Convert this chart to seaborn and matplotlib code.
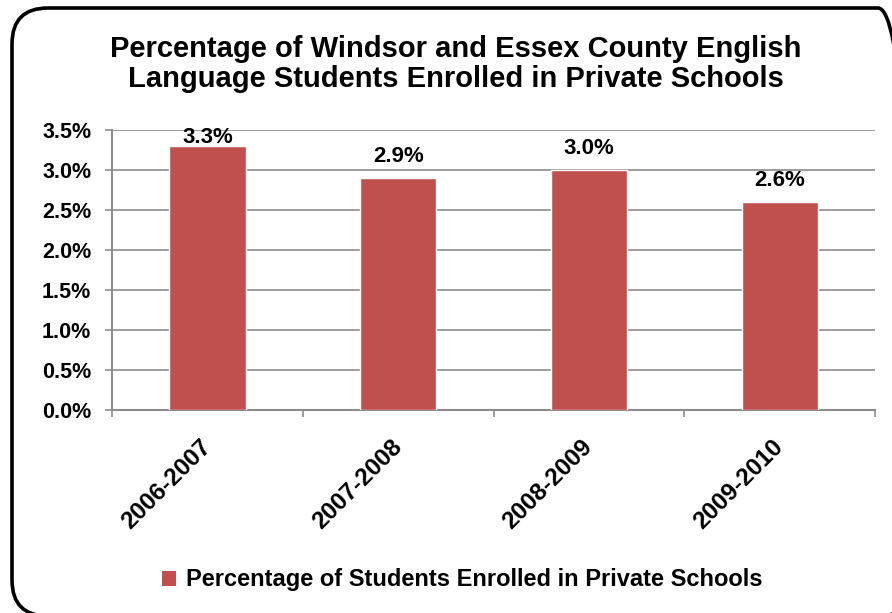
import matplotlib
matplotlib.use("Agg")
import matplotlib.pyplot as plt
import matplotlib.transforms as mtransforms
from matplotlib.patches import FancyBboxPatch, Patch
import seaborn as sns
import pandas as pd

years = ["2006-2007", "2007-2008", "2008-2009", "2009-2010"]
pct_private = [3.3, 2.9, 3.0, 2.6]
y_ticks = [0.0, 0.5, 1.0, 1.5, 2.0, 2.5, 3.0, 3.5]
series_name = "Percentage of Students Enrolled in Private Schools"
title = "Percentage of Windsor and Essex County English\nLanguage Students Enrolled in Private Schools"

bar_color = "#C0504D"
grid_color = "#8C8C8C"

sns.set_theme(style="white")
plt.rcParams["font.family"] = ["Liberation Sans", "DejaVu Sans"]
plt.rcParams["font.weight"] = "bold"
plt.rcParams["text.color"] = "black"
plt.rcParams["xtick.labelcolor"] = "black"
plt.rcParams["ytick.labelcolor"] = "black"

df = pd.DataFrame({"year": years, "pct": pct_private})

fig = plt.figure(figsize=(8.92, 6.13), dpi=100)
ax = fig.add_axes([0.1256, 0.3312, 0.8554, 0.4568])

# rounded outer frame, running off the right and bottom edges of the figure
frame = FancyBboxPatch((0.12, -0.03), 9.02, 6.08,
                       boxstyle="round,pad=0,rounding_size=0.36",
                       transform=fig.dpi_scale_trans, fill=False,
                       edgecolor="black", linewidth=2.6, clip_on=False)
fig.patches.append(frame)

sns.barplot(data=df, x="year", y="pct", color=bar_color, saturation=1,
            width=0.4, ax=ax, zorder=3)
ax.set_xlim(-0.5, len(years) - 0.5)
ax.set_ylim(0, 3.5)
ax.set_yticks(y_ticks)
ax.set_yticklabels([f"{v:.1f}%" for v in y_ticks], fontsize=15.5, fontweight="bold")
ax.yaxis.grid(True, color=grid_color, linewidth=1.2, zorder=0)
ax.set_axisbelow(True)

# category tick marks sit between the bars
ax.set_xticks([i - 0.5 for i in range(len(years) + 1)], minor=False)
ax.set_xticklabels([])
ax.set_xticks(range(len(years)), minor=True)
ax.set_xticklabels(years, minor=True, rotation=45, ha="right",
                   rotation_mode="anchor", fontsize=17.5, fontweight="bold")
ax.tick_params(axis="x", which="minor", length=0, pad=16)
ax.tick_params(axis="x", which="major", length=5, width=1.2, color=grid_color,
               direction="out", bottom=True)
ax.tick_params(axis="y", length=5, width=1.2, color=grid_color,
               direction="out", left=True, pad=10)
shift = mtransforms.ScaledTranslation(-0.08, -0.03, fig.dpi_scale_trans)
for lbl in ax.get_xticklabels(minor=True):
    lbl.set_transform(lbl.get_transform() + shift)

for side in ["top", "right"]:
    ax.spines[side].set_visible(False)
for side in ["left", "bottom"]:
    ax.spines[side].set_color(grid_color)
    ax.spines[side].set_linewidth(1.5)

ax.set_xlabel("")
ax.set_ylabel("")

for i, v in enumerate(pct_private):
    ax.text(i, min(v + 0.27, 3.4), f"{v:.1f}%", ha="center", va="center",
            fontsize=16, fontweight="bold", color="black", zorder=4)

fig.text(0.511, 0.895, title, ha="center", va="center", fontsize=21,
         fontweight="bold", linespacing=1.1)

handle = Patch(facecolor=bar_color, edgecolor="none")
fig.legend([handle], [series_name], loc="center", bbox_to_anchor=(0.518, 0.054),
           frameon=False, prop={"size": 17, "weight": "bold"},
           handlelength=0.6, handleheight=0.6, handletextpad=0.4)

fig.savefig("out.png", dpi=100)
